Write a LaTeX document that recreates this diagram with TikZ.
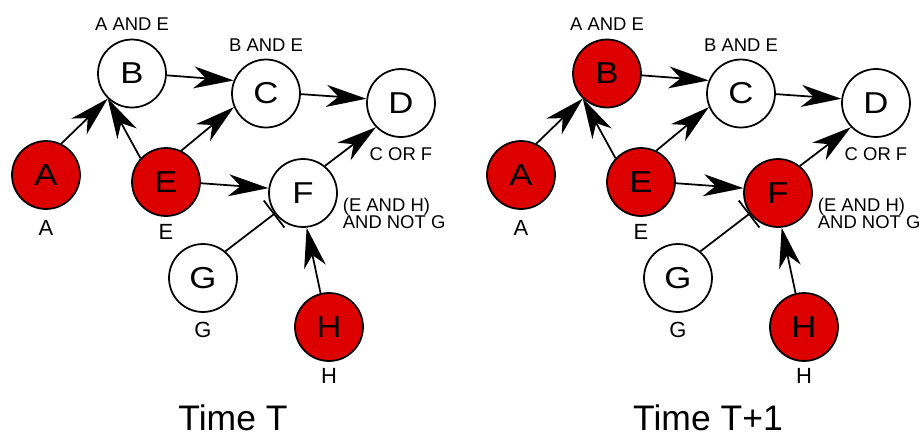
\documentclass[tikz,border=0pt]{standalone}
\usepackage{fontspec}
\setmainfont{Liberation Sans}
\newfontfamily\genefont[FakeStretch=1.15]{Liberation Sans}
\usetikzlibrary{positioning, arrows.meta}
\definecolor{genered}{RGB}{221,0,0}

\begin{document}
\begin{tikzpicture}[x=0.02cm, y=-0.02cm, line width=0.035cm,
  gene/.style={draw, circle, minimum size=1.36cm, inner sep=0pt, fill=white, font=\genefont\fontsize{17.2}{18}\selectfont},
  on/.style={fill=genered},
  rule/.style={inner sep=0pt, align=left, font=\fontsize{10.5}{10}\selectfont},
  tag/.style={inner sep=0pt, font=\fontsize{12.5}{14}\selectfont},
  caption/.style={inner sep=0pt, font=\fontsize{20.2}{24}\selectfont},
  act/.style={-{Stealth[length=0.8cm, width=0.44cm, inset=0.24cm]}},
  inh/.style={-{Bar[width=0.68cm]}}]
  \useasboundingbox (0,0) rectangle (921,437);

  % state at time T
  \node[gene, on] (A0) at (46,175) {A};
  \node[gene] (B0) at (132,73.5) {B};
  \node[gene] (C0) at (266,93.5) {C};
  \node[gene] (D0) at (401,103) {D};
  \node[gene, on] (E0) at (166,182) {E};
  \node[gene] (F0) at (303,193) {F};
  \node[gene] (G0) at (203,278) {G};
  \node[gene, on] (H0) at (329,327) {H};

  \node[rule, above=0.14cm of B0] (rB0) {A AND E};
  \node[rule, above=0.13cm of C0] (rC0) {B AND E};
  \node[rule, below=0.17cm of D0] (rD0) {C OR F};
  \node[rule, anchor=north west] (rF0) at (342,197) {(E AND H)\\AND NOT G};
  \node[tag, below=0.2cm of A0] (tA0) {A};
  \node[tag, below=0.14cm of E0] (tE0) {E};
  \node[tag, below=0.17cm of G0] (tG0) {G};
  \node[tag, below=0.12cm of H0] (tH0) {H};

  \draw[act] (A0.64) -- (B0.226);
  \draw[act] (E0.137) -- (B0.226);
  \draw[act] (B0.-3) -- (C0.158);
  \draw[act] (E0.64) -- (C0.203);
  \draw[act] (C0.-1) -- (D0.173);
  \draw[act] (E0.-2) -- (F0.172);
  \draw[act] (F0.51) -- (D0.224);
  \draw[act] (H0.104) -- (F0.-84);
  \draw[inh] (G0.50) -- (F0.216);

  \node[caption] (time0) at (233,418) {Time T};

  % state at time T+1
  \node[gene, on] (A1) at (521,175) {A};
  \node[gene, on] (B1) at (607,73.5) {B};
  \node[gene] (C1) at (741,93.5) {C};
  \node[gene] (D1) at (876,103) {D};
  \node[gene, on] (E1) at (641,182) {E};
  \node[gene, on] (F1) at (778,193) {F};
  \node[gene] (G1) at (678,278) {G};
  \node[gene, on] (H1) at (804,327) {H};

  \node[rule, above=0.14cm of B1] (rB1) {A AND E};
  \node[rule, above=0.13cm of C1] (rC1) {B AND E};
  \node[rule, below=0.17cm of D1] (rD1) {C OR F};
  \node[rule, anchor=north west] (rF1) at (817,197) {(E AND H)\\AND NOT G};
  \node[tag, below=0.2cm of A1] (tA1) {A};
  \node[tag, below=0.14cm of E1] (tE1) {E};
  \node[tag, below=0.17cm of G1] (tG1) {G};
  \node[tag, below=0.12cm of H1] (tH1) {H};

  \draw[act] (A1.64) -- (B1.226);
  \draw[act] (E1.137) -- (B1.226);
  \draw[act] (B1.-3) -- (C1.158);
  \draw[act] (E1.64) -- (C1.203);
  \draw[act] (C1.-1) -- (D1.173);
  \draw[act] (E1.-2) -- (F1.172);
  \draw[act] (F1.51) -- (D1.224);
  \draw[act] (H1.104) -- (F1.-84);
  \draw[inh] (G1.50) -- (F1.216);

  \node[caption] (time1) at (708,418) {Time T+1};
\end{tikzpicture}
\end{document}
